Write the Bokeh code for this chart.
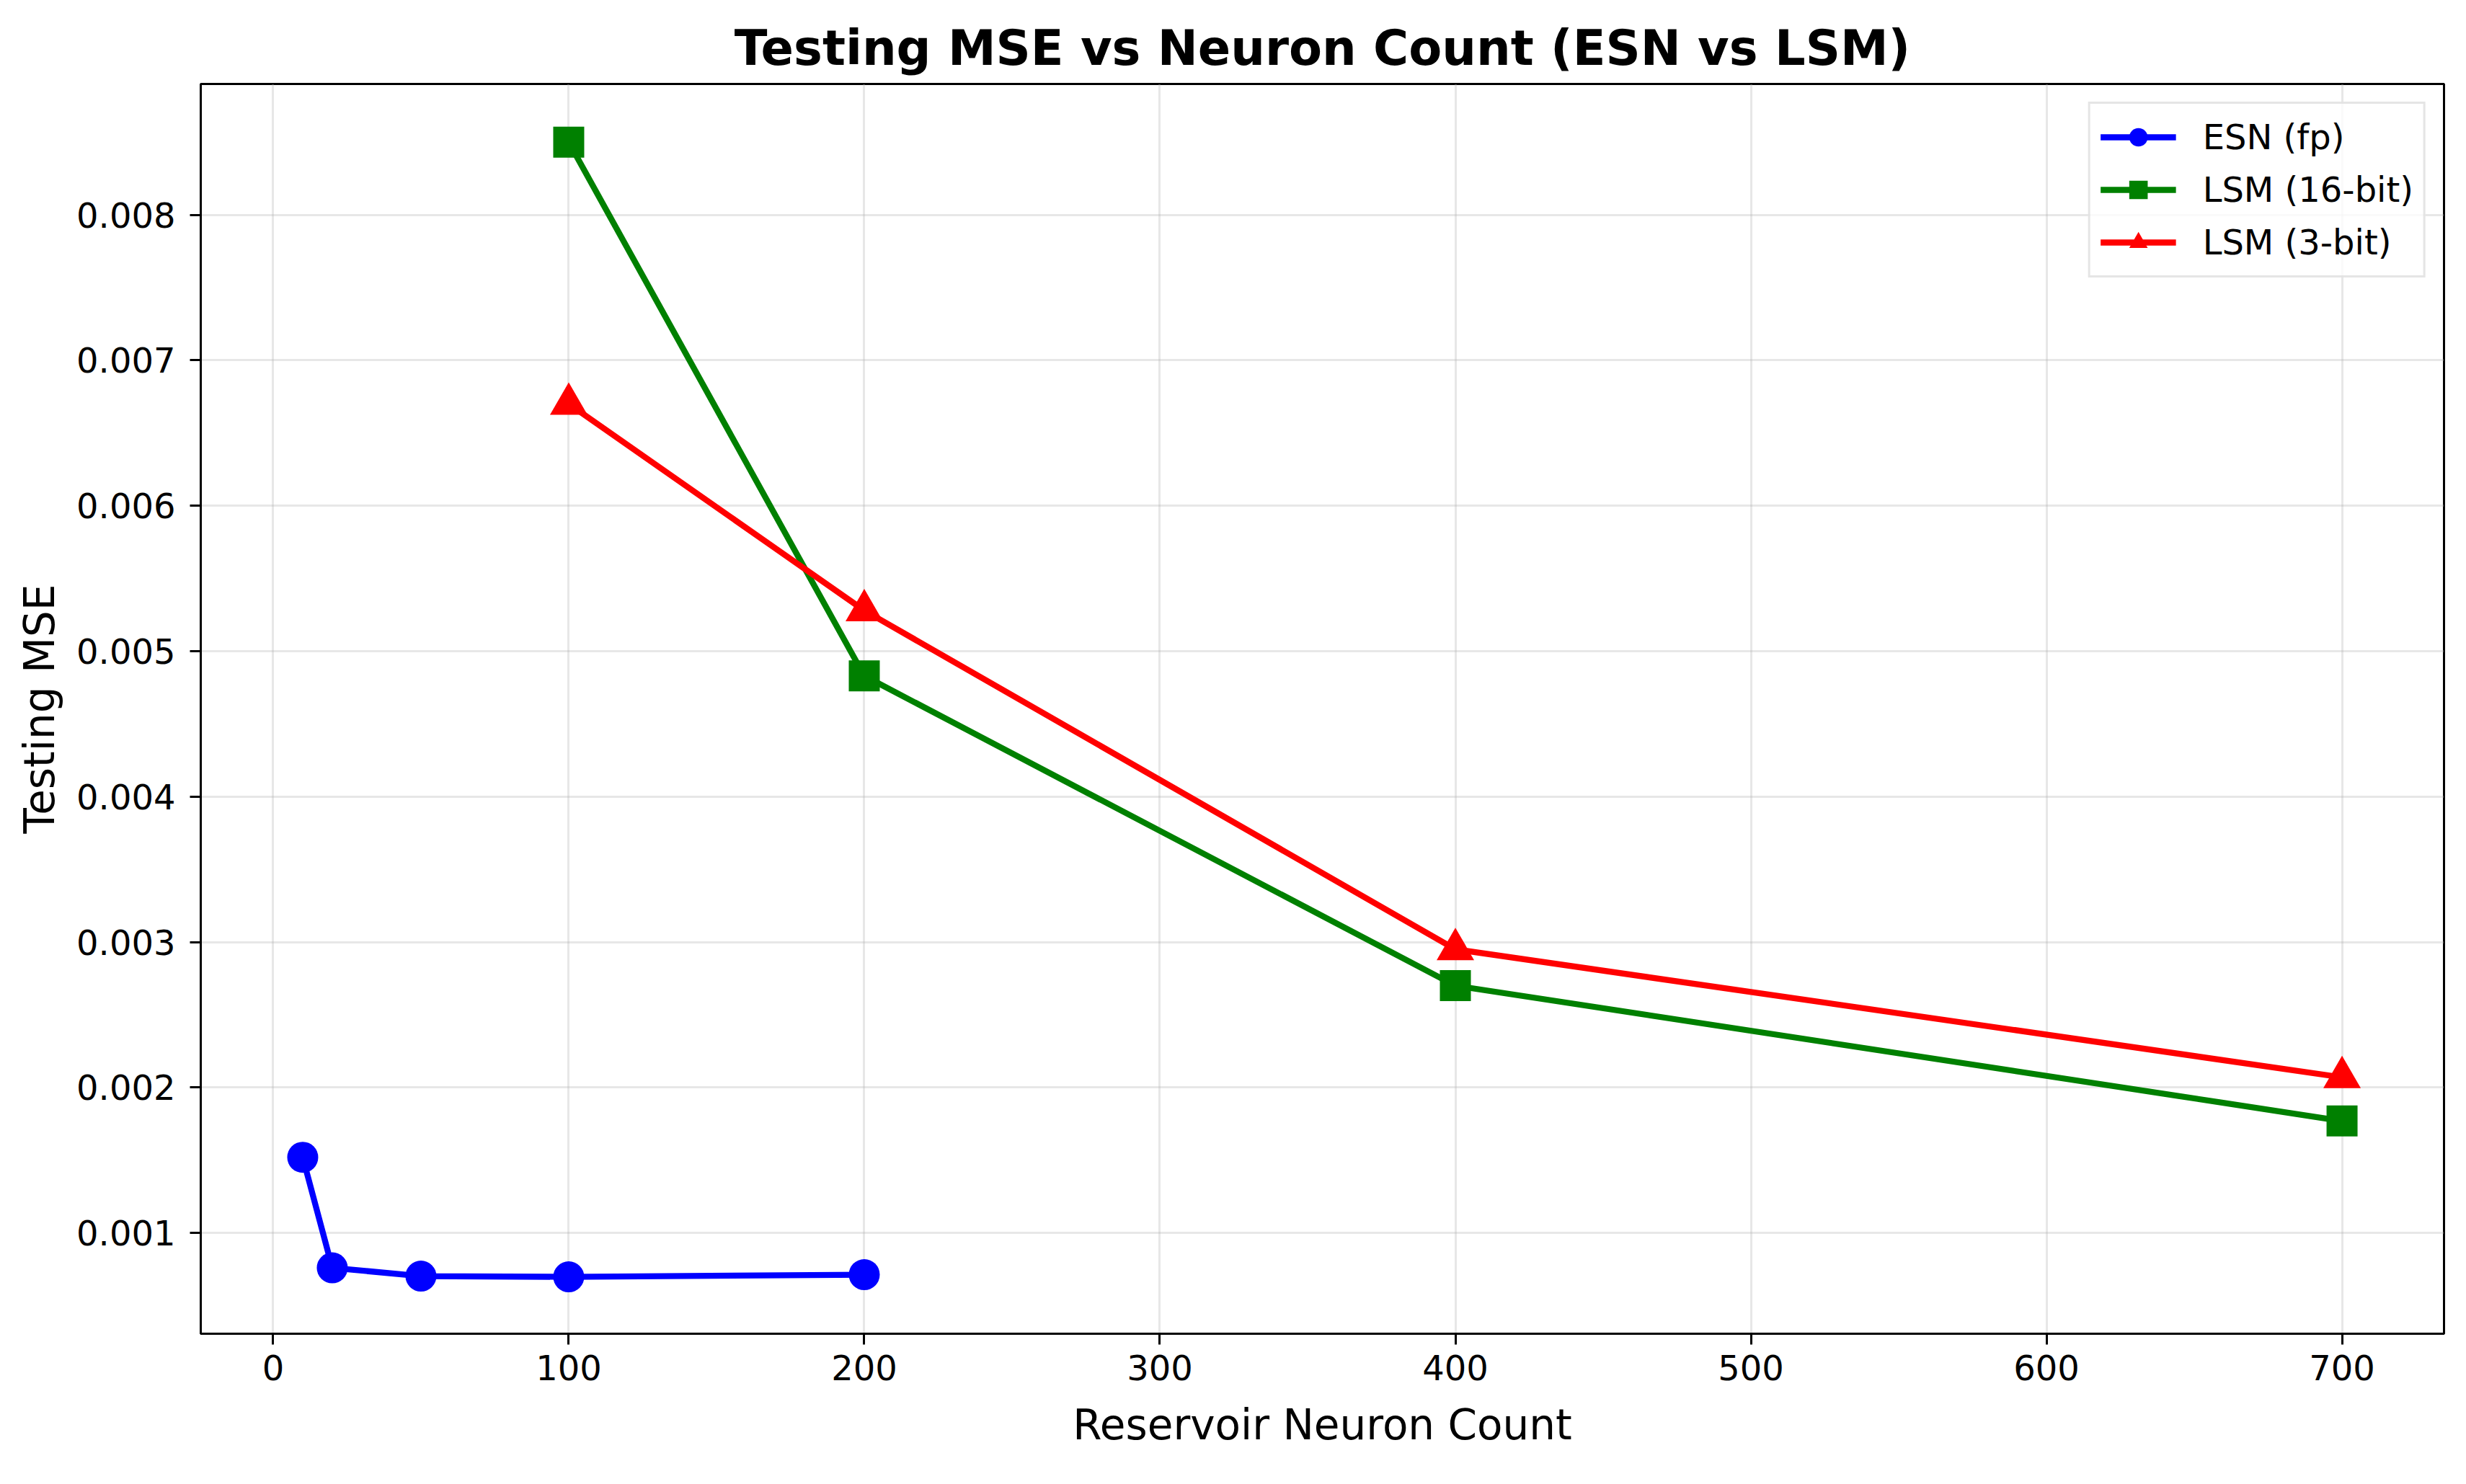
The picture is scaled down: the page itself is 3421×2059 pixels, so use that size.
from bokeh.plotting import figure
from bokeh.models import Range1d, FixedTicker, PrintfTickFormatter, Legend, LegendItem
from bokeh.embed import file_html
from bokeh.resources import INLINE

# ---- data ----
esn_n = [10, 20, 50, 100, 200]
esn_mse = [0.00152, 0.00076, 0.000703, 0.000698, 0.000713]
lsm16_n = [100, 200, 400, 700]
lsm16_mse = [0.0085, 0.00483, 0.0027, 0.00177]
lsm3_n = [100, 200, 400, 700]
lsm3_mse = [0.0067, 0.00528, 0.00295, 0.00207]
x_ticks = [0, 100, 200, 300, 400, 500, 600, 700]
y_ticks = [0.001, 0.002, 0.003, 0.004, 0.005, 0.006, 0.007, 0.008]

FONT = "DejaVu Sans"

p = figure(width=3405, height=2043, output_backend="svg", toolbar_location=None,
           x_range=Range1d(-24.5, 734.5), y_range=Range1d(0.000307, 0.0089),
           min_border_left=278, min_border_right=15, min_border_top=116, min_border_bottom=193,
           title="Testing MSE vs Neuron Count (ESN vs LSM)")
p.background_fill_color = "white"
p.border_fill_color = "white"
p.outline_line_color = "black"
p.outline_line_width = 3

p.title.align = "center"
p.title.text_font = FONT
p.title.text_font_size = "67px"
p.title.text_font_style = "bold"
p.title.text_color = "black"
p.title.standoff = 21

for ax in (p.xaxis[0], p.yaxis[0]):
    ax.axis_line_color = "black"
    ax.axis_line_width = 3
    ax.major_tick_line_width = 3
    ax.major_tick_out = 15
    ax.major_tick_in = 0
    ax.minor_tick_line_color = None
    ax.major_label_text_font = FONT
    ax.major_label_text_font_size = "48px"
    ax.major_label_text_color = "black"
    ax.axis_label_text_font = FONT
    ax.axis_label_text_font_size = "58px"
    ax.axis_label_text_font_style = "normal"
    ax.axis_label_text_color = "black"

p.xaxis.ticker = FixedTicker(ticks=x_ticks)
p.yaxis.ticker = FixedTicker(ticks=y_ticks)
p.xaxis.formatter = PrintfTickFormatter(format="%d")
p.yaxis.formatter = PrintfTickFormatter(format="%.3f")
p.xaxis.axis_label = "Reservoir Neuron Count"
p.yaxis.axis_label = "Testing MSE"
p.xaxis.major_label_standoff = 14
p.yaxis.major_label_standoff = 20
p.xaxis.axis_label_standoff = 25
p.yaxis.axis_label_standoff = 14

p.grid.grid_line_color = "#b0b0b0"
p.grid.grid_line_alpha = 0.3
p.grid.grid_line_width = 3
p.xgrid.ticker = FixedTicker(ticks=x_ticks)
p.ygrid.ticker = FixedTicker(ticks=y_ticks)

LW = 8.3
l1 = p.line(esn_n, esn_mse, line_color="blue", line_width=LW)
s1 = p.scatter(esn_n, esn_mse, marker="circle", size=43, fill_color="blue", line_color="blue", line_width=0)
l2 = p.line(lsm16_n, lsm16_mse, line_color="green", line_width=LW)
s2 = p.scatter(lsm16_n, lsm16_mse, marker="square", size=43, fill_color="green", line_color="green", line_width=0)
l3 = p.line(lsm3_n, lsm3_mse, line_color="red", line_width=LW)
s3 = p.scatter(lsm3_n, lsm3_mse, marker="triangle", size=52, fill_color="red", line_color="red", line_width=0)

legend = Legend(items=[
    LegendItem(label="ESN (fp)", renderers=[l1, s1]),
    LegendItem(label="LSM (16-bit)", renderers=[l2, s2]),
    LegendItem(label="LSM (3-bit)", renderers=[l3, s3]),
], location="top_right")
legend.margin = 25
legend.padding = 14
legend.spacing = 9
legend.glyph_width = 105
legend.glyph_height = 64
legend.label_height = 64
legend.label_standoff = 37
legend.label_text_font = FONT
legend.label_text_font_size = "48px"
legend.label_text_color = "black"
legend.border_line_color = "#cccccc"
legend.border_line_width = 3
legend.background_fill_color = "white"
legend.background_fill_alpha = 0.8
p.add_layout(legend, "center")

open("out.html", "w").write(file_html(p, INLINE))
